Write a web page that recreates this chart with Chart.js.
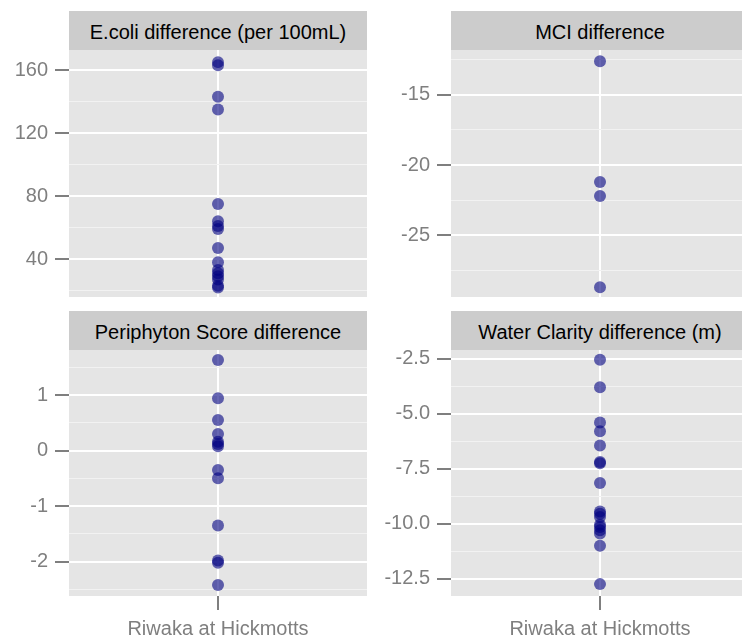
<!DOCTYPE html>
<html>
<head>
<meta charset="utf-8">
<script src="https://cdn.jsdelivr.net/npm/chart.js@4.4.1/dist/chart.umd.min.js"></script>
<style>
  html, body { margin: 0; padding: 0; background: #fff; width: 742px; height: 638px; overflow: hidden; }
  #wrap { position: relative; width: 760px; height: 638px; }
  canvas { position: absolute; }
  .strip {
    position: absolute; background: #cccccc; color: #000;
    font: 20px "Liberation Sans", Arial, sans-serif;
    display: flex; align-items: center; justify-content: center;
    box-sizing: border-box; padding-top: 3px;
  }
</style>
</head>
<body>
<div id="wrap">
  <div class="strip" style="left:69px;top:11px;width:298px;height:39px;">E.coli difference (per 100mL)</div>
  <div class="strip" style="left:451px;top:11px;width:298px;height:39px;">MCI difference</div>
  <div class="strip" style="left:69px;top:311px;width:298px;height:39px;">Periphyton Score difference</div>
  <div class="strip" style="left:451px;top:311px;width:298px;height:39px;">Water Clarity difference (m)</div>
  <canvas id="ecoli" width="367" height="247" style="left:0;top:50px;"></canvas>
  <canvas id="mci" width="378" height="247" style="left:371px;top:50px;"></canvas>
  <canvas id="peri" width="367" height="288" style="left:0;top:350px;"></canvas>
  <canvas id="clarity" width="378" height="288" style="left:371px;top:350px;"></canvas>
</div>
<script>
const site = ['Riwaka at Hickmotts'];

// values
const ecoli = [165, 163, 143, 135, 75, 64, 61, 59, 47, 38, 33, 31, 29, 27, 23, 22];
const mci = [-12.6, -21.2, -22.2, -28.7];
const peri = [1.63, 0.94, 0.55, 0.30, 0.16, 0.12, 0.08, -0.35, -0.5, -1.35, -1.98, -2.02, -2.42];
const clarity = [-2.55, -3.8, -5.4, -5.8, -6.45, -7.2, -7.25, -8.15, -9.45, -9.55, -9.7, -10.05, -10.15, -10.3, -10.45, -11.0, -12.75];

// tick positions
const ecoliMajor = [40, 80, 120, 160];
const ecoliMinor = [20, 60, 100, 140];
const mciMajor = [-15, -20, -25];
const mciMinor = [-12.5, -17.5, -22.5, -27.5];
const periMajor = [1, 0, -1, -2];
const periMinor = [1.5, 0.5, -0.5, -1.5, -2.5];
const clarityMajor = [-2.5, -5, -7.5, -10, -12.5];
const clarityMinor = [-3.75, -6.25, -8.75, -11.25];

const font = { family: '"Liberation Sans", Arial, sans-serif', size: 20 };
const grey = '#7f7f7f';

const panelBg = {
  id: 'panelBg',
  beforeDraw(chart) {
    const a = chart.chartArea;
    const c = chart.ctx;
    c.save();
    c.fillStyle = '#e5e5e5';
    c.fillRect(a.left, a.top, a.right - a.left, a.bottom - a.top);
    c.restore();
  }
};

function isIn(list, v) {
  return list.some(m => Math.abs(m - v) < 1e-9);
}

function makePanel(id, values, min, max, major, minor, axisW, bottom, fmt) {
  const ticks = major.concat(minor);
  new Chart(document.getElementById(id), {
    type: 'line',
    data: {
      labels: site,
      datasets: [{
        data: values.map(v => ({ x: site[0], y: v })),
        showLine: false,
        pointRadius: 6,
        pointBorderWidth: 0,
        pointBackgroundColor: 'rgba(0,0,128,0.6)',
        pointBorderColor: 'rgba(0,0,0,0)',
        clip: false
      }]
    },
    options: {
      responsive: false,
      animation: false,
      devicePixelRatio: 1,
      events: [],
      layout: { padding: 0, autoPadding: false },
      plugins: { legend: { display: false }, tooltip: { enabled: false } },
      scales: {
        x: {
          type: 'category',
          offset: true,
          border: { display: false },
          grid: {
            offset: false,
            color: '#ffffff',
            lineWidth: 2,
            drawTicks: bottom,
            tickLength: 14,
            tickColor: grey,
            tickWidth: 2
          },
          ticks: { display: bottom, color: grey, font: font, padding: 7, maxRotation: 0 },
          afterFit(s) {
            s.height = bottom ? 42 : 0;
            s.paddingLeft = 0;
            s.paddingRight = 0;
          }
        },
        y: {
          min: min,
          max: max,
          border: { display: false },
          afterBuildTicks(s) { s.ticks = ticks.map(v => ({ value: v })); },
          afterFit(s) {
            s.width = axisW;
            s.paddingTop = 0;
            s.paddingBottom = 0;
          },
          grid: {
            color: c => isIn(major, c.tick.value) ? '#ffffff' : '#f2f2f2',
            lineWidth: c => isIn(major, c.tick.value) ? 2 : 1,
            tickLength: 14,
            tickWidth: 2,
            tickColor: c => isIn(major, c.tick.value) ? grey : 'rgba(0,0,0,0)'
          },
          ticks: {
            color: grey,
            font: font,
            padding: 7,
            callback: v => isIn(major, v) ? fmt(v) : ''
          }
        }
      }
    },
    plugins: [panelBg]
  });
}

makePanel('ecoli', ecoli, 15.9, 172.7, ecoliMajor, ecoliMinor, 69, false, v => String(v));
makePanel('mci', mci, -29.4, -11.8, mciMajor, mciMinor, 80, false, v => String(v));
makePanel('peri', peri, -2.617, 1.81, periMajor, periMinor, 69, true, v => String(v));
makePanel('clarity', clarity, -13.29, -2.105, clarityMajor, clarityMinor, 80, true, v => v.toFixed(1));
</script>
</body>
</html>
